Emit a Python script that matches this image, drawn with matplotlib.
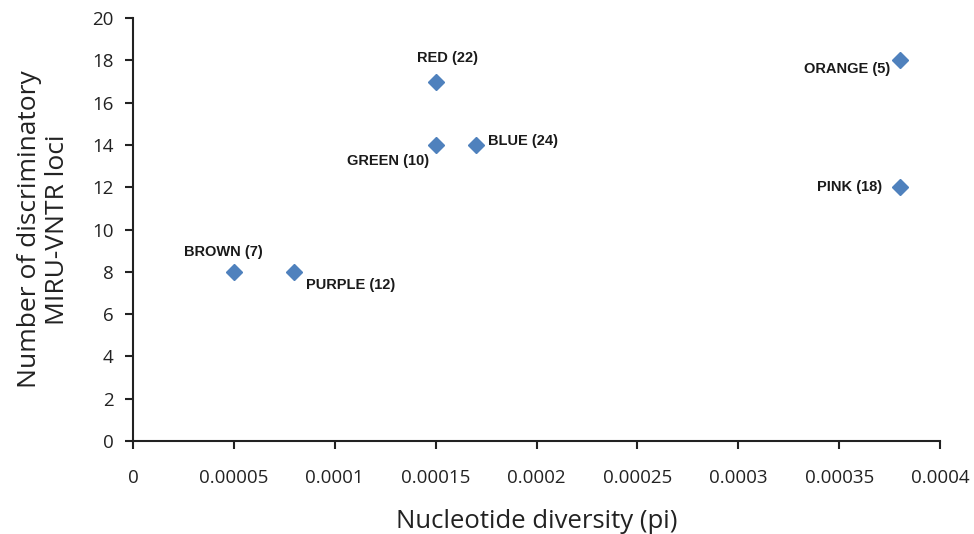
import matplotlib
matplotlib.use("Agg")
import matplotlib.pyplot as plt

# data
groups = ["RED (22)", "GREEN (10)", "BLUE (24)", "ORANGE (5)", "PINK (18)", "BROWN (7)", "PURPLE (12)"]
pi_vals = [0.00015, 0.00015, 0.00017, 0.00038, 0.00038, 0.00005, 0.00008]
loci = [17, 14, 14, 18, 12, 8, 8]

# label placement per point: (dx px, dy px, ha, va)
label_pos = [
    (12, 24, "center", "center"),
    (-7, -16, "right", "center"),
    (12, 4, "left", "center"),
    (-10, -9, "right", "center"),
    (-18, 0, "right", "center"),
    (-11, 20, "center", "center"),
    (12, -13, "left", "center"),
]

fig = plt.figure(figsize=(9.74, 5.34), dpi=100)
ax = fig.add_axes([0.1366, 0.174, 0.8286, 0.792])

ax.plot(pi_vals, loci, linestyle="none", marker="D", markersize=8,
        color="#4F81BD", markeredgecolor="#4F81BD")

for name, x, y, (dx, dy, ha, va) in zip(groups, pi_vals, loci, label_pos):
    ax.annotate(name, (x, y), xytext=(dx, dy), textcoords="offset pixels",
                ha=ha, va=va, fontsize=10.5, fontweight="bold",
                family="Liberation Sans", color="#1a1a1a")

ax.set_xlim(0, 0.0004)
ax.set_ylim(0, 20)
ax.set_xticks([0, 0.00005, 0.0001, 0.00015, 0.0002, 0.00025, 0.0003, 0.00035, 0.0004])
ax.set_xticklabels(["0", "0.00005", "0.0001", "0.00015", "0.0002", "0.00025",
                    "0.0003", "0.00035", "0.0004"])
ax.set_yticks(range(0, 21, 2))

for s in ["top", "right"]:
    ax.spines[s].set_visible(False)
for s in ["left", "bottom"]:
    ax.spines[s].set_linewidth(1.5)
    ax.spines[s].set_color("#222222")

ax.tick_params(axis="both", direction="out", length=6, width=1.5, color="#222222",
               labelsize=13.5, labelcolor="#222222", pad=8)
for lab in ax.get_xticklabels() + ax.get_yticklabels():
    lab.set_family("Open Sans")
ax.tick_params(axis="x", pad=14)

ax.set_xlabel("Nucleotide diversity (pi)", fontsize=18.5, family="Open Sans",
              color="#222222", labelpad=16)
ax.set_ylabel("Number of discriminatory\nMIRU-VNTR loci", fontsize=19,
              family="Open Sans", color="#222222", labelpad=16, linespacing=1.15)

fig.savefig("out.png", dpi=100)
